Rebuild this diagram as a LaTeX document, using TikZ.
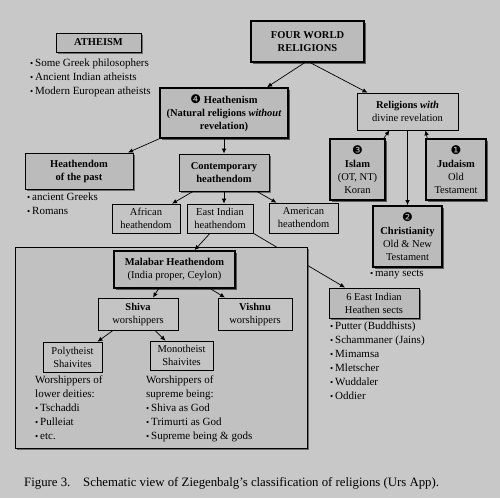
\documentclass[tikz,border=0pt]{standalone}
\usepackage{fontspec}
\setmainfont{Liberation Serif}
\newfontfamily\dingfont{DejaVu Sans}
\usetikzlibrary{arrows.meta, shadows}

\definecolor{pagegray}{gray}{0.785}
\definecolor{boxgray}{gray}{0.735}
\definecolor{lightgray}{gray}{0.77}
\definecolor{framegray}{gray}{0.755}
\newcommand\dotitem{\raisebox{.05ex}{\small\textbullet}\,}
\newcommand\numdot[1]{{\dingfont\fontsize{12}{10}\selectfont #1}}

\begin{document}
\begin{tikzpicture}[
      x=1pt, y=-1pt,
      font=\fontsize{10.5}{13}\selectfont,
      heavy/.style={draw, line width=1.6pt, align=center, inner sep=1pt,
        fill=boxgray, drop shadow={shadow xshift=2pt, shadow yshift=-2pt,
        fill=black, opacity=0.55}},
      mid/.style={draw, line width=0.9pt, align=center, inner sep=1pt,
        fill=boxgray, drop shadow={shadow xshift=1.6pt, shadow yshift=-1.6pt,
        fill=black, opacity=0.45}},
      plain/.style={draw, line width=0.6pt, align=center, inner sep=1pt,
        fill=lightgray},
      framebox/.style={draw, line width=0.9pt, fill=framegray,
        drop shadow={shadow xshift=1.6pt, shadow yshift=-1.6pt,
        fill=black, opacity=0.45}},
      list/.style={align=left, inner sep=0pt, anchor=north west,
        font=\fontsize{11}{14}\selectfont},
      arrow/.style={-{Latex[length=5pt, width=4.5pt]}, line width=0.7pt}
    ]
    \fill[pagegray] (0,0) rectangle (500,498);
    \useasboundingbox (0,0) rectangle (500,498);

    \node[mid, minimum width=85pt, minimum height=19pt] at (98.5,42.5)
      (atheism) {\textbf{ATHEISM}};
    \node[list] at (30,59) (atheists) {\dotitem Some Greek philosophers\\
      \dotitem Ancient Indian atheists\\\dotitem Modern European atheists};

    \node[heavy, minimum width=113pt, minimum height=41pt] at (307.5,41.5)
      (four) {\textbf{FOUR WORLD}\\\textbf{RELIGIONS}};
    \node[heavy, minimum width=128pt, minimum height=50pt] at (224,113)
      (heath) {\numdot{❹}~\textbf{Heathenism}\\
      \textbf{(Natural religions \textit{without}}\\\textbf{revelation)}};
    \node[plain, minimum width=101pt, minimum height=37pt] at (407.5,111.5)
      (revel) {\textbf{Religions \textit{with}}\\divine revelation};

    \node[mid, minimum width=108pt, minimum height=36pt] at (79,171)
      (past) {\textbf{Heathendom}\\\textbf{of the past}};
    \node[list] at (27,193) (pastlist) {\dotitem ancient Greeks\\\dotitem Romans};
    \node[mid, minimum width=90pt, minimum height=37pt] at (224,172.5)
      (contemp) {\textbf{Contemporary}\\\textbf{heathendom}};
    \node[plain, minimum width=68pt, minimum height=29pt] at (146,218.5)
      (african) {African\\heathendom};
    \node[plain, minimum width=66pt, minimum height=29pt] at (220,218.5)
      (eastind) {East Indian\\heathendom};
    \node[plain, minimum width=69pt, minimum height=30pt] at (303.5,218)
      (american) {American\\heathendom};

    \node[heavy, minimum width=55pt, minimum height=61pt] at (357.5,169.5)
      (islam) {\numdot{❸}\\\textbf{Islam}\\(OT, NT)\\Koran};
    \node[heavy, minimum width=60pt, minimum height=61pt] at (456,169.5)
      (judaism) {\numdot{❶}\\\textbf{Judaism}\\Old\\Testament};
    \node[heavy, minimum width=69pt, minimum height=61pt] at (407.5,236.5)
      (christ) {\numdot{❷}\\\textbf{Christianity}\\Old \& New\\Testament};
    \node[list] at (370,270) (sectsnote) {\dotitem many sects};

    \node[mid, minimum width=90pt, minimum height=30pt] at (374,303)
      (sects) {6 East Indian\\Heathen sects};
    \node[list] at (330,322) (sectlist) {\dotitem Putter (Buddhists)\\
      \dotitem Schammaner (Jains)\\\dotitem Mimamsa\\\dotitem Mletscher\\
      \dotitem Wuddaler\\\dotitem Oddier};

    \draw[arrow] (eastind.south east) -- ([xshift=-29pt]sects.north);

    \node[framebox, minimum width=292pt, minimum height=201pt] at (161,347.5)
      (malframe) {};
    \node[heavy, minimum width=121pt, minimum height=37pt] at (174.5,269.5)
      (malabar) {\textbf{Malabar Heathendom}\\(India proper, Ceylon)};
    \node[plain, line width=0.8pt, minimum width=80pt, minimum height=32pt]
      at (138,314) (shiva) {\textbf{Shiva}\\worshippers};
    \node[plain, line width=0.8pt, minimum width=74pt, minimum height=32pt]
      at (255,314) (vishnu) {\textbf{Vishnu}\\worshippers};
    \node[plain, minimum width=59pt, minimum height=30pt] at (72.5,357)
      (poly) {Polytheist\\Shaivites};
    \node[plain, minimum width=63pt, minimum height=29pt] at (181.5,355.5)
      (mono) {Monotheist\\Shaivites};
    \node[list] at (35,376) (polylist) {Worshippers of\\lower deities:\\
      \dotitem Tschaddi\\\dotitem Pulleiat\\\dotitem etc.};
    \node[list] at (146,376) (monolist) {Worshippers of\\supreme being:\\
      \dotitem Shiva as God\\\dotitem Trimurti as God\\
      \dotitem Supreme being \& gods};

    \node[anchor=west, inner sep=0pt, font=\fontsize{12.8}{14}\selectfont]
      at (24,483) (caption) {Figure 3.\quad Schematic view of Ziegenbalg’s
      classification of religions (Urs App).};

    \draw[arrow] ([xshift=-3pt]four.south) -- ([xshift=43pt]heath.north);
    \draw[arrow] ([xshift=3pt]four.south) -- ([xshift=-40pt]revel.north);
    \draw[arrow] (heath.south west) -- ([xshift=49pt]past.north);
    \draw[arrow] (heath.south) -- (contemp.north);
    \draw[arrow] ([xshift=-31pt]contemp.south) -- ([xshift=26pt]african.north);
    \draw[arrow] (contemp.south) -- (contemp.south |- eastind.north);
    \draw[arrow] ([xshift=33pt]contemp.south) -- ([xshift=-27pt]american.north);
    \draw[arrow] ([xshift=-10pt]eastind.south) -- ([xshift=20pt]malabar.north);
    \draw[arrow] ([xshift=-16pt]malabar.south) -- ([xshift=15pt]shiva.north);
    \draw[arrow] ([xshift=36pt]malabar.south) -- ([xshift=-30pt]vishnu.north);
    \draw[arrow] ([xshift=-25pt]shiva.south) -- ([xshift=25pt]poly.north);
    \draw[arrow] ([xshift=17pt]shiva.south) -- ([xshift=-16pt]mono.north);
    \draw[arrow] (revel.south) -- (christ.north);
    \draw[arrow] ([xshift=-2pt]islam.north east) -- ([xshift=-18pt]revel.south);
    \draw[arrow] ([xshift=2pt]judaism.north west) -- ([xshift=18pt]revel.south);
  \end{tikzpicture}
\end{document}
